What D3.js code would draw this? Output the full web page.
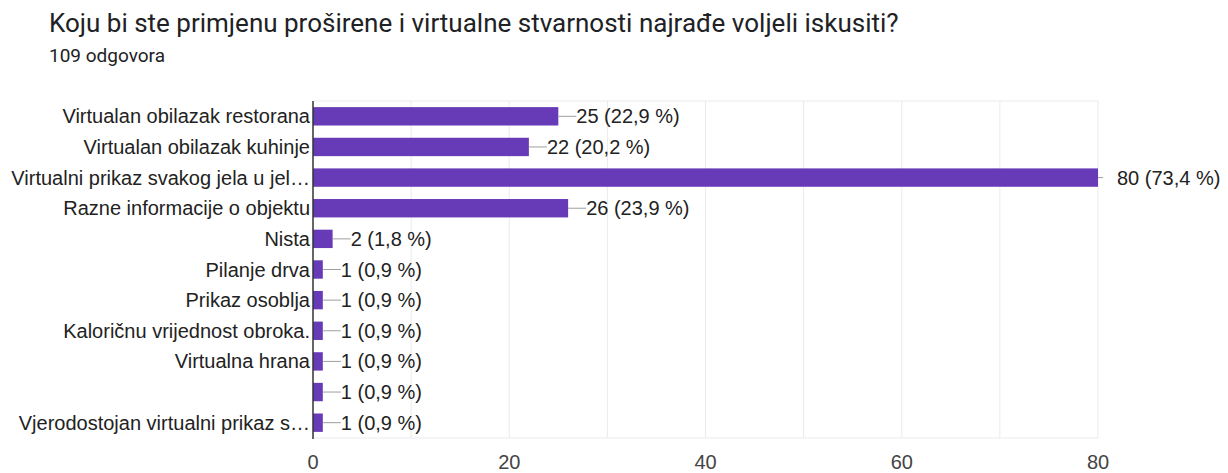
<!DOCTYPE html>
<html>
<head>
<meta charset="utf-8">
<script src="https://cdn.jsdelivr.net/npm/d3@7"></script>
<style>
  body { margin: 0; background: #fff; }
</style>
</head>
<body>
<div id="chart"></div>
<script>
const categories = [
  "Virtualan obilazak restorana",
  "Virtualan obilazak kuhinje",
  "Virtualni prikaz svakog jela u jel…",
  "Razne informacije o objektu",
  "Nista",
  "Pilanje drva",
  "Prikaz osoblja",
  "Kaloričnu vrijednost obroka.",
  "Virtualna hrana",
  "",
  "Vjerodostojan virtualni prikaz s…"
];
const counts = [25, 22, 80, 26, 2, 1, 1, 1, 1, 1, 1];
const percents = ["22,9", "20,2", "73,4", "23,9", "1,8", "0,9", "0,9", "0,9", "0,9", "0,9", "0,9"];
const xTicks = [0, 20, 40, 60, 80];
const gridValues = [10, 20, 30, 40, 50, 60, 70, 80];

const width = 1228, height = 473;

const svg = d3.select("#chart")
  .append("svg")
  .attr("width", width)
  .attr("height", height);

svg.append("text")
  .attr("x", 49).attr("y", 32)
  .attr("font-family", "Roboto")
  .attr("font-size", 26)
  .attr("fill", "#202124")
  .text("Koju bi ste primjenu proširene i virtualne stvarnosti najrađe voljeli iskusiti?");

svg.append("text")
  .attr("x", 49).attr("y", 62)
  .attr("font-family", "Roboto")
  .attr("font-size", 19)
  .attr("fill", "#202124")
  .text("109 odgovora");

const x = d3.scaleLinear().domain([0, 80]).range([313, 1098]);
const y = d3.scaleBand().domain(d3.range(categories.length)).range([101, 438]).paddingInner(0.4).paddingOuter(0.2);

// grid
svg.append("g")
  .selectAll("line")
  .data(gridValues)
  .join("line")
  .attr("x1", d => x(d)).attr("x2", d => x(d))
  .attr("y1", 101).attr("y2", 438)
  .attr("stroke", "#ebebeb");

svg.append("line")
  .attr("x1", x(0)).attr("x2", x(80))
  .attr("y1", 101).attr("y2", 101)
  .attr("stroke", "#ebebeb");
svg.append("line")
  .attr("x1", x(0)).attr("x2", x(80))
  .attr("y1", 438).attr("y2", 438)
  .attr("stroke", "#ebebeb");

// bars
svg.append("g")
  .selectAll("rect")
  .data(counts)
  .join("rect")
  .attr("x", x(0))
  .attr("y", (d, i) => y(i))
  .attr("width", d => x(d) - x(0))
  .attr("height", y.bandwidth())
  .attr("fill", "#673ab7");

// connectors
svg.append("g")
  .selectAll("line")
  .data(counts)
  .join("line")
  .attr("x1", d => x(d))
  .attr("x2", d => d === 80 ? x(d) + 5 : x(d) + 18)
  .attr("y1", (d, i) => y(i) + y.bandwidth() / 2)
  .attr("y2", (d, i) => y(i) + y.bandwidth() / 2)
  .attr("stroke", "#9e9e9e");

// value labels
svg.append("g")
  .attr("font-family", "Liberation Sans, Arial")
  .attr("font-size", 20)
  .attr("fill", "#222")
  .selectAll("text")
  .data(counts)
  .join("text")
  .attr("x", d => d === 80 ? x(d) + 19 : x(d) + 18)
  .attr("y", (d, i) => y(i) + y.bandwidth() / 2)
  .attr("dy", "0.35em")
  .text((d, i) => `${d} (${percents[i]} %)`);

// category labels
svg.append("g")
  .attr("font-family", "Liberation Sans, Arial")
  .attr("font-size", 20)
  .attr("fill", "#222")
  .attr("text-anchor", "end")
  .selectAll("text")
  .data(categories)
  .join("text")
  .attr("x", x(0) - 3)
  .attr("y", (d, i) => y(i) + y.bandwidth() / 2)
  .attr("dy", "0.35em")
  .text(d => d);

// y axis line
svg.append("line")
  .attr("x1", x(0)).attr("x2", x(0))
  .attr("y1", 101).attr("y2", 439)
  .attr("stroke", "#333")
  .attr("stroke-width", 1.5);

// x tick labels
svg.append("g")
  .attr("font-family", "Liberation Sans, Arial")
  .attr("font-size", 20)
  .attr("fill", "#444")
  .attr("text-anchor", "middle")
  .selectAll("text")
  .data(xTicks)
  .join("text")
  .attr("x", d => x(d))
  .attr("y", 469)
  .text(d => d);
</script>
</body>
</html>
